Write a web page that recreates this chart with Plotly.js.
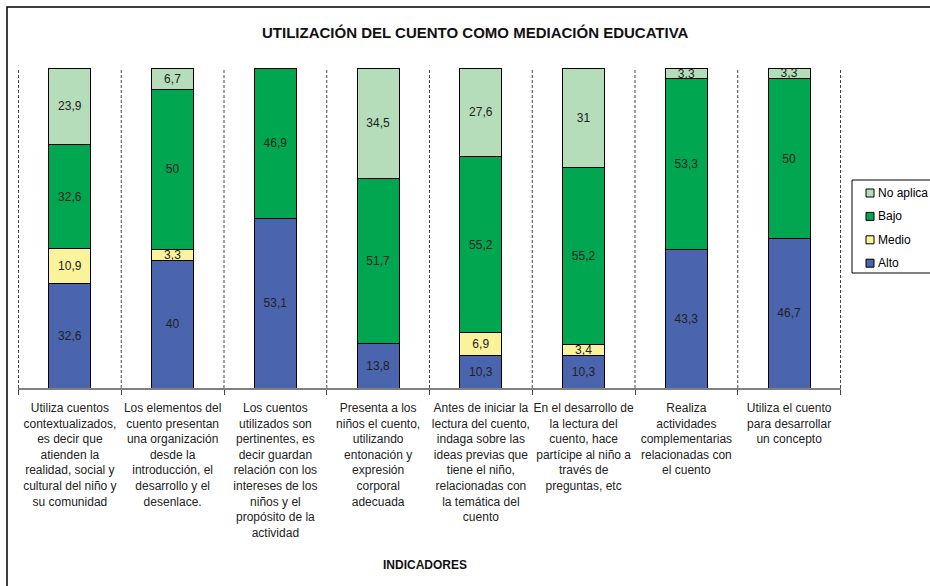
<!DOCTYPE html>
<html>
<head>
<meta charset="utf-8">
<script src="https://cdn.plot.ly/plotly-3.0.1.min.js"></script>
<style>html,body{margin:0;padding:0;background:#fff;}#chart{width:930px;height:586px;}</style>
</head>
<body>
<div id="chart"></div>
<script>
const categories = [
  "Utiliza cuentos<br>contextualizados,<br>es decir que<br>atienden la<br>realidad, social y<br>cultural del niño y<br>su comunidad",
  "Los elementos del<br>cuento presentan<br>una organización<br>desde la<br>introducción, el<br>desarrollo y el<br>desenlace.",
  "Los cuentos<br>utilizados son<br>pertinentes, es<br>decir guardan<br>relación con los<br>intereses de los<br>niños y el<br>propósito de la<br>actividad",
  "Presenta a los<br>niños el cuento,<br>utilizando<br>entonación y<br>expresión<br>corporal<br>adecuada",
  "Antes de iniciar la<br>lectura del cuento,<br>indaga sobre las<br>ideas previas que<br>tiene el niño,<br>relacionadas con<br>la temática del<br>cuento",
  "En el desarrollo de<br>la lectura del<br>cuento, hace<br>partícipe al niño a<br>través de<br>preguntas, etc",
  "Realiza<br>actividades<br>complementarias<br>relacionadas con<br>el cuento",
  "Utiliza el cuento<br>para desarrollar<br>un concepto"
];
const alto     = [32.6, 40, 53.1, 13.8, 10.3, 10.3, 43.3, 46.7];
const medio    = [10.9, 3.3, null, null, 6.9, 3.4, null, null];
const bajo     = [32.6, 50, 46.9, 51.7, 55.2, 55.2, 53.3, 50];
const noAplica = [23.9, 6.7, null, 34.5, 27.6, 31, 3.3, 3.3];

const seriesNames = ["Alto", "Medio", "Bajo", "No aplica"];
const seriesValues = [alto, medio, bajo, noAplica];
const seriesColors = ["#4A64AE", "#FAF39C", "#00A650", "#B6DDBA"];

const FONT = "Liberation Sans, Arial, sans-serif";
const fmt = v => (v == null ? "" : String(v).replace(".", ","));

// plot area in pixels: left 18, right 841, top 68, bottom 388
const M = {l: 18, r: 89, t: 68, b: 198};
const PW = 930 - M.l - M.r, PH = 586 - M.t - M.b;
const px = x => (x - M.l) / PW;
const py = y => (586 - M.b - y) / PH;

const traces = seriesNames.map((name, i) => ({
  type: "bar",
  name: name,
  x: categories,
  y: seriesValues[i],
  text: seriesValues[i].map(fmt),
  textposition: "inside",
  insidetextanchor: "middle",
  textangle: 0,
  textfont: {family: FONT, size: 12, color: "#222"},
  marker: {color: seriesColors[i], line: {color: "#000", width: 1}},
  hoverinfo: "skip",
  showlegend: false
}));

const shapes = [];
for (let i = 0; i <= categories.length; i++) {
  shapes.push({
    type: "line", xref: "x", yref: "paper",
    x0: i - 0.5, x1: i - 0.5, y0: 0, y1: 1,
    line: {color: "#444", width: 1, dash: "3px,2px"}
  });
}
// outer chart border
shapes.push({
  type: "rect", xref: "paper", yref: "paper",
  x0: px(7), x1: px(960), y0: py(620), y1: py(7),
  line: {color: "#000", width: 1.5}, fillcolor: "rgba(0,0,0,0)", layer: "below"
});

// legend (box, swatches, labels), top-to-bottom: No aplica, Bajo, Medio, Alto
const annotations = [{
  text: "<b>INDICADORES</b>", xref: "paper", yref: "paper",
  x: px(425), y: py(565), xanchor: "center", yanchor: "middle", showarrow: false,
  font: {family: FONT, size: 12, color: "#111"}
}];
shapes.push({
  type: "rect", xref: "paper", yref: "paper",
  x0: px(852), x1: px(960), y0: py(273), y1: py(180),
  line: {color: "#000", width: 1}, fillcolor: "#fff"
});
const legendOrder = [3, 2, 1, 0];
legendOrder.forEach((si, row) => {
  const cy = 193 + row * 23.4;
  shapes.push({
    type: "rect", xref: "paper", yref: "paper",
    x0: px(866), x1: px(874), y0: py(cy + 4), y1: py(cy - 4),
    line: {color: "#000", width: 1}, fillcolor: seriesColors[si]
  });
  annotations.push({
    text: seriesNames[si], xref: "paper", yref: "paper",
    x: px(876), y: py(cy), xanchor: "left", yanchor: "middle", showarrow: false,
    font: {family: FONT, size: 12, color: "#000"}
  });
});

const layout = {
  width: 930, height: 586,
  margin: {l: M.l, r: M.r, t: M.t, b: M.b, autoexpand: false},
  paper_bgcolor: "#fff", plot_bgcolor: "#fff",
  font: {family: FONT, size: 12, color: "#222"},
  barmode: "stack",
  bargap: 0.59,
  uniformtext: {minsize: 12, mode: "show"},
  title: {
    text: "<b>UTILIZACIÓN DEL CUENTO COMO MEDIACIÓN EDUCATIVA</b>",
    font: {family: FONT, size: 15, color: "#111"},
    x: 0.511, xanchor: "center", y: 0.944, yanchor: "middle"
  },
  xaxis: {
    type: "category",
    showline: true, linecolor: "#808080", linewidth: 1.5,
    ticks: "outside", tickson: "boundaries", ticklen: 5, tickcolor: "#444",
    tickangle: 0, ticklabelstandoff: 8,
    showgrid: false,
    tickfont: {family: FONT, size: 12, color: "#222"},
    automargin: false
  },
  yaxis: {
    range: [0, 100], visible: false, showgrid: false, zeroline: false, fixedrange: true
  },
  annotations: annotations,
  shapes: shapes,
  showlegend: false
};

Plotly.newPlot("chart", traces, layout, {displayModeBar: false, staticPlot: true});
</script>
</body>
</html>
